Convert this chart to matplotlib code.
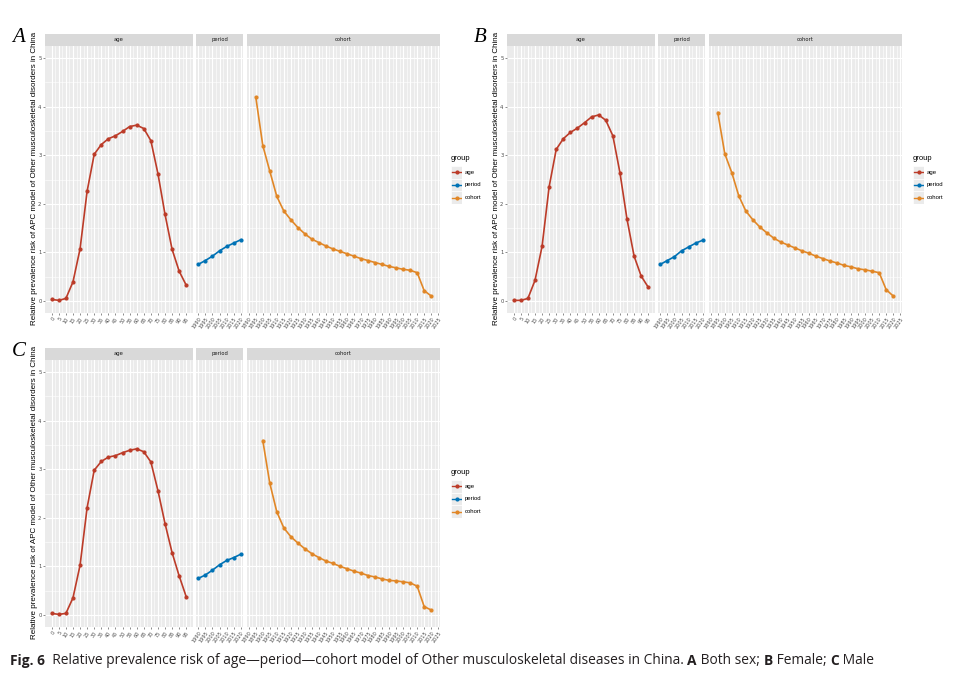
import numpy as np
import matplotlib
matplotlib.use("Agg")
import matplotlib.pyplot as plt
from matplotlib.patches import Rectangle

# grupos de edad, periodos y cohortes (eje x)
age_groups = list(range(0, 100, 5))
periods = list(range(1990, 2021, 5))
cohorts = list(range(1895, 2021, 5))
cohorts_male = list(range(1900, 2021, 5))

# A: ambos sexos
age_both = [0.03, 0.01, 0.05, 0.39, 1.07, 2.26, 3.02, 3.22, 3.34, 3.40,
            3.49, 3.59, 3.62, 3.55, 3.30, 2.62, 1.78, 1.06, 0.61, 0.32]
period_both = [0.75, 0.83, 0.92, 1.03, 1.12, 1.19, 1.26]
cohort_both = [4.20, 3.20, 2.67, 2.15, 1.85, 1.67, 1.51, 1.38, 1.27, 1.20,
               1.13, 1.07, 1.02, 0.97, 0.92, 0.87, 0.83, 0.79, 0.75, 0.71,
               0.68, 0.65, 0.63, 0.58, 0.21, 0.10]

# B: mujeres
age_female = [0.01, 0.01, 0.05, 0.42, 1.12, 2.35, 3.12, 3.34, 3.47, 3.56,
              3.67, 3.79, 3.83, 3.72, 3.40, 2.64, 1.68, 0.92, 0.51, 0.28]
period_female = [0.75, 0.83, 0.91, 1.03, 1.11, 1.19, 1.25]
cohort_female = [3.88, 3.03, 2.64, 2.16, 1.85, 1.67, 1.52, 1.40, 1.29, 1.21,
                 1.15, 1.09, 1.03, 0.98, 0.92, 0.87, 0.82, 0.78, 0.73, 0.70,
                 0.66, 0.64, 0.61, 0.58, 0.23, 0.10]

# C: hombres
age_male = [0.03, 0.01, 0.03, 0.35, 1.02, 2.21, 2.98, 3.16, 3.25, 3.28,
            3.34, 3.39, 3.42, 3.36, 3.15, 2.56, 1.88, 1.28, 0.80, 0.37]
period_male = [0.75, 0.82, 0.92, 1.03, 1.12, 1.18, 1.25]
cohort_male = [3.59, 2.71, 2.12, 1.79, 1.61, 1.48, 1.36, 1.26, 1.18, 1.11,
               1.06, 1.00, 0.95, 0.90, 0.86, 0.81, 0.78, 0.74, 0.71, 0.70,
               0.68, 0.66, 0.59, 0.17, 0.10]

groups = ["age", "period", "cohort"]
colors = {"age": "#BC3C29", "period": "#0072B5", "cohort": "#E18727"}
ylabel = "Relative prevalence risk of APC model of Other musculoskeletal disorders in China"

W, H = 976, 697
fig = plt.figure(figsize=(W / 100, H / 100), dpi=100)
fig.patch.set_facecolor("white")

xs_range = {"age": age_groups, "period": periods, "cohort": cohorts}


def px_axes(x0, y0, x1, y1):
    return fig.add_axes([x0 / W, 1 - y1 / H, (x1 - x0) / W, (y1 - y0) / H])


def facet(x0, x1, oy, name, xs, ys, first):
    ax = px_axes(x0, oy + 46, x1, oy + 313)
    ax.set_facecolor("#EBEBEB")
    lo, hi = min(xs_range[name]), max(xs_range[name])
    pad = (hi - lo) * 0.05
    ax.set_xlim(lo - pad, hi + pad)
    ax.set_ylim(-0.25, 5.25)
    ticks = [t for t in range(0, 2100, 5) if lo - pad <= t <= hi + pad]
    ax.set_xticks(ticks)
    ax.set_xticklabels([str(t) for t in ticks], rotation=55, ha="right",
                       rotation_mode="anchor", fontsize=3.6, color="#4D4D4D")
    ax.set_xticks([t + 2.5 for t in ticks if t + 2.5 <= hi + pad], minor=True)
    ax.set_yticks(range(6))
    ax.set_yticks(np.arange(0.5, 5.5, 1), minor=True)
    ax.grid(which="major", color="white", linewidth=0.8)
    ax.grid(which="minor", color="white", linewidth=0.4)
    ax.set_axisbelow(True)
    for s in ax.spines.values():
        s.set_visible(False)
    ax.tick_params(axis="x", which="major", length=1.5, width=0.4,
                   color="#333333", pad=1)
    ax.tick_params(which="minor", length=0)
    if first:
        ax.set_yticklabels([str(i) for i in range(6)], fontsize=3.8,
                           color="#4D4D4D")
        ax.tick_params(axis="y", which="major", length=1.5, width=0.4,
                       color="#333333", pad=1)
    else:
        ax.tick_params(axis="y", which="major", length=0, labelleft=False)
    ax.plot(xs, ys, color=colors[name], linewidth=1.2, marker="o",
            markersize=2.0)

    st = px_axes(x0, oy + 34, x1, oy + 45.5)
    st.set_facecolor("#D9D9D9")
    st.set_xticks([])
    st.set_yticks([])
    for s in st.spines.values():
        s.set_visible(False)
    st.text(0.5, 0.5, name, ha="center", va="center", fontsize=3.8,
            color="#1A1A1A", transform=st.transAxes)
    return ax


def panel(ox, oy, letter, age_v, period_v, cohort_x, cohort_v):
    facet(ox + 45, ox + 193, oy, "age", age_groups, age_v, True)
    facet(ox + 196, ox + 243, oy, "period", periods, period_v, False)
    facet(ox + 247, ox + 440, oy, "cohort", cohort_x, cohort_v, False)

    fig.text((ox + 12) / W, 1 - (oy + 38) / H, letter, fontsize=15,
             family="Liberation Serif", style="italic", ha="left", va="center")
    fig.text((ox + 35) / W, 1 - (oy + 178) / H, ylabel, rotation=90,
             fontsize=5.8, family="Liberation Sans", ha="center", va="center")

    # leyenda
    fig.text((ox + 451) / W, 1 - (oy + 159) / H, "group", fontsize=5.5,
             family="Liberation Sans", ha="left", va="center")
    lg = px_axes(ox + 451, oy + 166, ox + 462, oy + 204)
    lg.set_xlim(0, 1)
    lg.set_ylim(0, 3)
    lg.axis("off")
    for i, g in enumerate(groups):
        yc = 2.5 - i
        lg.add_patch(Rectangle((0, yc - 0.5), 1, 1, facecolor="#EBEBEB",
                               edgecolor="white", linewidth=0.5))
        lg.plot([0.1, 0.9], [yc, yc], color=colors[g], linewidth=1.0)
        lg.plot([0.5], [yc], color=colors[g], marker="o", markersize=2.0)
        fig.text((ox + 465) / W, 1 - (oy + 166 + 6.3 + 12.6 * i) / H, g,
                 fontsize=4.3, family="Liberation Sans", ha="left",
                 va="center")


panel(0, 0, "A", age_both, period_both, cohorts, cohort_both)
panel(462, 0, "B", age_female, period_female, cohorts, cohort_female)
panel(0, 314, "C", age_male, period_male, cohorts_male, cohort_male)

# pie de figura
parts = [("Fig. 6", "bold"), ("  Relative prevalence risk of age\u2014period\u2014cohort "
         "model of Other musculoskeletal diseases in China. ", "normal"),
         ("A", "bold"), (" Both sex; ", "normal"), ("B", "bold"),
         (" Female; ", "normal"), ("C", "bold"), (" Male", "normal")]
renderer = fig.canvas.get_renderer()
xpos = 10
for txt, w in parts:
    t = fig.text(xpos / W, 1 - 661 / H, txt, fontsize=9.9, family="Open Sans",
                 weight=w, ha="left", va="center", color="#231F20")
    bb = t.get_window_extent(renderer=renderer)
    xpos = bb.x1

fig.savefig("out.png", dpi=100)
